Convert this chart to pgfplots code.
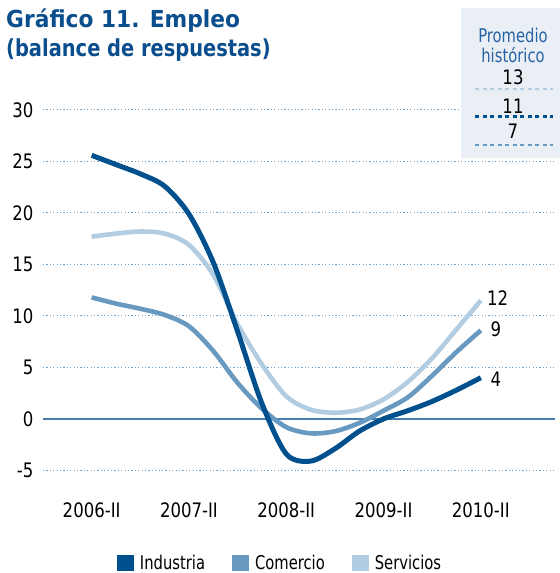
\documentclass[border=0pt]{standalone}
\usepackage{fontspec}
\setmainfont{DejaVu Sans}[FakeStretch=0.78]
\newfontfamily\titlefontA{DejaVu Sans}[FakeStretch=0.93]
\newfontfamily\titlefontB{DejaVu Sans}[FakeStretch=0.83]
\newfontfamily\tickfont{DejaVu Sans}[FakeStretch=0.83]
\usepackage{pgfplots}
\pgfplotsset{compat=1.18}
\definecolor{ind}{RGB}{0,80,142}
\definecolor{com}{RGB}{104,153,192}
\definecolor{ser}{RGB}{178,204,226}
\definecolor{titc}{RGB}{10,78,142}
\definecolor{gridc}{RGB}{110,160,205}
\definecolor{zeroc}{RGB}{70,125,175}
\definecolor{boxbg}{RGB}{233,239,245}
\definecolor{promc}{RGB}{40,100,165}
\begin{document}
\begin{tikzpicture}
\useasboundingbox (0bp,0bp) rectangle (560bp,573bp);
\node[anchor=base west, inner sep=0, text=titc, font=\titlefontA\bfseries\fontsize{23.5}{29}\selectfont] at (6bp,545bp) {Gráfico 11. Empleo};
\node[anchor=base west, inner sep=0, text=titc, font=\titlefontB\bfseries\fontsize{23.5}{29}\selectfont] at (6bp,516bp) {(balance de respuestas)};
\begin{axis}[at={(43bp,82bp)}, anchor=south west, scale only axis,
  width=512bp, height=381bp,
  xmin=-2, xmax=19.05, ymin=-7, ymax=30,
  clip=false,
  axis line style={draw=none}, tick style={draw=none},
  xtick={0,4,8,12,16},
  xticklabels={2006-II,2007-II,2008-II,2009-II,2010-II},
  ytick={-5,5,10,15,20,25,30},
  yticklabels={-5,5,10,15,20,25,30},
  extra y ticks={0},
  extra y tick labels={0},
  extra y tick style={major grid style={solid, color=zeroc, line width=1.3bp}},
  ymajorgrids,
  major grid style={color=gridc, line width=1bp, dash pattern=on 1.2bp off 2.2bp},
  tick label style={font=\tickfont\fontsize{20}{24}\selectfont},
  yticklabel style={xshift=-6bp},
  xticklabel style={yshift=-8bp},
  legend style={at={(0.463,-0.189)}, anchor=center, draw=none, fill=none,
    legend columns=3, font=\fontsize{19}{22}\selectfont,
    /tikz/every odd column/.append style={column sep=4bp},
    /tikz/every even column/.append style={column sep=25bp}},
  legend cell align=left,
  legend image code/.code={\fill[#1, draw=none] (0bp,-8bp) rectangle (17bp,8bp);},
]
\addplot[ser, line width=4.6bp, smooth, tension=0.5, forget plot] coordinates {
(0,17.7) (1,18.0) (2,18.2) (3,18.0) (4,16.9) (5,14.0) (6,9.2) (7,5.3) (8,2.2)
(9,0.9) (10,0.6) (11,0.9) (12,1.9) (13,3.6) (14,5.9) (15,8.7) (16,11.5)};
\addplot[com, line width=4.6bp, smooth, tension=0.5, forget plot] coordinates {
(0,11.8) (1,11.2) (2,10.7) (3,10.1) (4,9.0) (5,6.6) (6,3.5) (7,1.0) (8,-0.8)
(9,-1.4) (10,-1.2) (11,-0.4) (12,0.8) (13,2.1) (14,4.2) (15,6.5) (16,8.6)};
\addplot[ind, line width=5bp, smooth, tension=0.5, forget plot] coordinates {
(0,25.6) (1,24.7) (2,23.8) (3,22.6) (4,19.9) (5,15.2) (6,8.5) (7,1.5) (8,-3.4)
(9,-4.1) (10,-2.9) (11,-1.2) (12,0.0) (13,0.8) (14,1.7) (15,2.8) (16,4.0)};
\addlegendimage{ind}\addlegendentry{Industria}
\addlegendimage{com}\addlegendentry{Comercio}
\addlegendimage{ser}\addlegendentry{Servicios}
\node[anchor=west, inner sep=0, font=\tickfont\fontsize{20}{24}\selectfont] at (axis cs:16.25,11.7) {12};
\node[anchor=west, inner sep=0, font=\tickfont\fontsize{20}{24}\selectfont] at (axis cs:16.4,8.7) {9};
\node[anchor=west, inner sep=0, font=\tickfont\fontsize{20}{24}\selectfont] at (axis cs:16.4,3.9) {4};
\end{axis}
\fill[boxbg] (461bp,415bp) rectangle (560bp,565bp);
\node[text=promc, font=\fontsize{19}{22}\selectfont, inner sep=0] at (513bp,538bp) {Promedio};
\node[text=promc, font=\fontsize{19}{22}\selectfont, inner sep=0] at (513bp,518bp) {histórico};
\node[font=\tickfont\fontsize{20}{24}\selectfont, inner sep=0] at (513bp,496bp) {13};
\draw[ser, line width=2.5bp, dash pattern=on 4bp off 3.5bp] (475bp,484bp) -- (553bp,484bp);
\node[font=\tickfont\fontsize{20}{24}\selectfont, inner sep=0] at (513bp,467bp) {11};
\draw[ind, line width=3bp, dash pattern=on 4bp off 3.5bp] (475bp,456bp) -- (553bp,456bp);
\node[font=\tickfont\fontsize{20}{24}\selectfont, inner sep=0] at (513bp,442bp) {7};
\draw[com, line width=2.5bp, dash pattern=on 4bp off 3.5bp] (475bp,428bp) -- (553bp,428bp);
\end{tikzpicture}
\end{document}
